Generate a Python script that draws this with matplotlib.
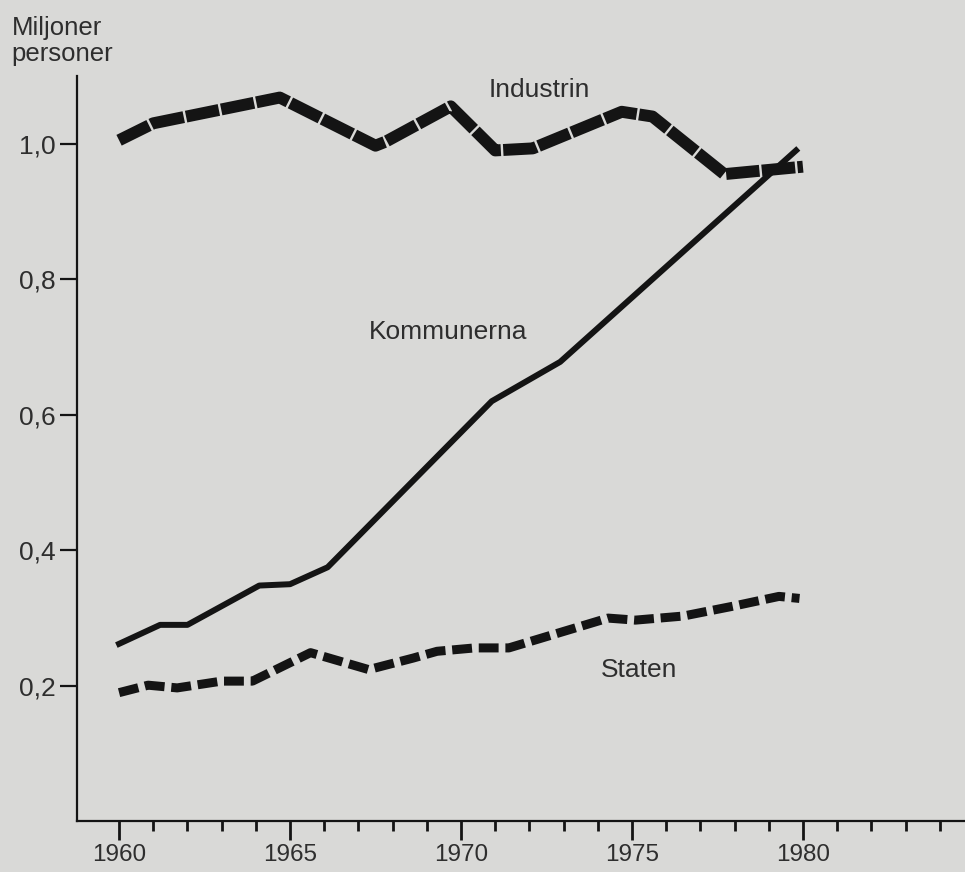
import matplotlib.pyplot as plt
from matplotlib.ticker import FixedLocator, FuncFormatter

plt.rcParams['font.family'] = ['Liberation Sans', 'DejaVu Sans']

# Anställda, miljoner personer (avlästa brytpunkter)
ind_years = [1960, 1961, 1964.7, 1967.5, 1967.8, 1969.7, 1971.0, 1972.1, 1974.7, 1975.6, 1977.7, 1980]
ind_vals = [1.005, 1.03, 1.068, 0.997, 1.003, 1.055, 0.99, 0.993, 1.047, 1.04, 0.955, 0.966]

kom_years = [1960, 1961.2, 1962.0, 1964.1, 1965.0, 1966.1, 1970.9, 1972.9, 1979.8]
kom_vals = [0.262, 0.29, 0.29, 0.348, 0.35, 0.375, 0.62, 0.678, 0.99]

stat_years = [1960, 1960.85, 1961.7, 1963.0, 1963.9, 1965.6, 1967.3, 1968.6, 1969.3, 1970.4,
              1971.4, 1974.3, 1975.1, 1976.5, 1978.0, 1979.3, 1979.9]
stat_vals = [0.19, 0.201, 0.197, 0.207, 0.207, 0.249, 0.224, 0.241, 0.251, 0.256,
             0.256, 0.30, 0.297, 0.303, 0.318, 0.332, 0.329]

major_years = [1960, 1965, 1970, 1975, 1980]
minor_years = list(range(1960, 1985))

bg = '#d9d9d7'
ink = '#141414'
txt = '#2e2e2e'

fig = plt.figure(figsize=(9.65, 8.72), dpi=100, facecolor=bg)
ax = fig.add_axes([0.0798, 0.058, 0.9202, 0.855])
ax.set_facecolor(bg)

ax.plot(ind_years, ind_vals, color=ink, lw=8.6, dashes=(2.8, 0.2))
ax.plot(kom_years, kom_vals, color=ink, lw=4.3, solid_joinstyle='round')
ax.plot(stat_years, stat_vals, color=ink, lw=6.5, dashes=(2.2, 0.75))

ax.text(1970.8, 1.079, 'Industrin', fontsize=19, color=txt, va='center')
ax.text(1967.3, 0.722, 'Kommunerna', fontsize=19, color=txt, va='center')
ax.text(1974.1, 0.2235, 'Staten', fontsize=19, color=txt, va='center')

ax.set_xlim(1958.77, 1984.74)
ax.set_ylim(0, 1.1)

for s in ['top', 'right']:
    ax.spines[s].set_visible(False)
for s in ['left', 'bottom']:
    ax.spines[s].set_color(ink)
    ax.spines[s].set_linewidth(1.6)

ax.set_yticks([0.2, 0.4, 0.6, 0.8, 1.0])
ax.yaxis.set_major_formatter(FuncFormatter(lambda v, p: f'{v:.1f}'.replace('.', ',')))
ax.set_xticks(major_years)
ax.xaxis.set_minor_locator(FixedLocator([y for y in minor_years if y not in major_years]))
ax.tick_params(axis='y', length=12.5, width=1.6, color=ink, labelsize=19, labelcolor=txt, pad=3)
ax.tick_params(axis='x', which='major', length=14, width=2.0, color=ink, labelsize=17.5,
               labelcolor=txt, pad=2.5)
ax.tick_params(axis='x', which='minor', length=7.5, width=2.0, color=ink)

fig.text(0.012, 0.953, 'Miljoner\npersoner', fontsize=18.5, color=txt, va='center', ha='left',
         linespacing=1.12)

fig.savefig('out.png', dpi=100, facecolor=bg)
